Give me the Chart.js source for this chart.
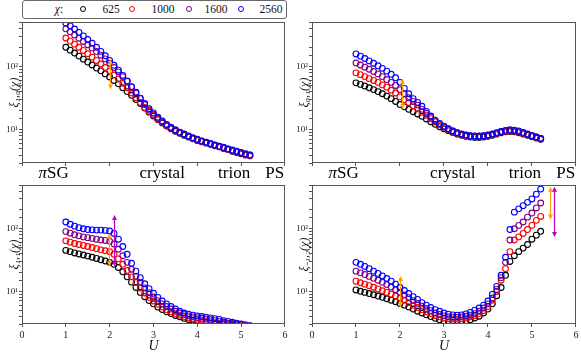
<!DOCTYPE html>
<html>
<head>
<meta charset="utf-8">
<script src="https://cdn.jsdelivr.net/npm/chart.js@4.4.0/dist/chart.umd.min.js"></script>
<style>
body { margin: 0; background: #fff; }
#wrap { position: relative; width: 581px; height: 357px; font-family: 'Liberation Serif', 'Times New Roman', serif; color: #111; }
canvas { position: absolute; }
#legend { position: absolute; left: 22px; top: 0; width: 265px; height: 19px; box-sizing: border-box; border: 1px solid #666; border-radius: 3px; font-size: 11.5px; z-index: 5; background: #fff; }
#legend span { position: absolute; top: 2px; transform: translateX(-50%); white-space: nowrap; }
#legend span.mk { top: 5px; width: 4px; height: 4px; border: 1.2px solid; border-radius: 50%; }
</style>
</head>
<body>
<div id="wrap">
  <canvas id="c10" width="290" height="185" style="left:0;top:0"></canvas>
  <canvas id="c01" width="291" height="185" style="left:290px;top:0"></canvas>
  <canvas id="c11" width="290" height="187" style="left:0;top:170px"></canvas>
  <canvas id="c12" width="291" height="187" style="left:290px;top:170px"></canvas>
  <div id="legend"></div>
</div>
<script>
// U values, same for every panel
var uVals = [1.0, 1.1, 1.2, 1.3, 1.4, 1.5, 1.6, 1.7, 1.8, 1.9, 2.0, 2.1, 2.2, 2.3, 2.4, 2.5, 2.6, 2.7, 2.8, 2.9,
             3.0, 3.1, 3.2, 3.3, 3.4, 3.5, 3.6, 3.7, 3.8, 3.9, 4.0, 4.1, 4.2, 4.3, 4.4, 4.5, 4.6, 4.7, 4.8, 4.9,
             5.0, 5.1, 5.2];

var chiLabels = ['625', '1000', '1600', '2560'];
var chiColors = ['#000000', '#ff0000', '#800080', '#0000ff'];

// xi_{1,0}
var xi10_625 = [200,180,162,145,130,117,105,94,85,76,68,60,53,46,40,35,30,26,22,19,16.5,14.5,12.8,11.5,10.4,9.5,8.8,8.2,7.7,7.2,6.8,6.5,6.2,5.9,5.6,5.4,5.1,4.9,4.6,4.4,4.2,4.0,3.9];
var xi10_1000 = [280,250,224,200,178,158,140,124,109,96,84,73,63,54,46,38,32,27,22.5,19.5,17,14.8,13.1,11.7,10.6,9.7,9.0,8.4,7.8,7.3,6.9,6.6,6.3,6.0,5.7,5.4,5.2,4.9,4.7,4.5,4.3,4.1,3.9];
var xi10_1600 = [390,350,312,278,247,219,194,171,150,131,112,96,82,69,58,47,38,31,25,20.5,17.5,15.2,13.4,11.9,10.8,9.8,9.1,8.5,7.9,7.4,7.0,6.6,6.3,6.0,5.7,5.5,5.2,5.0,4.7,4.5,4.3,4.1,4.0];
var xi10_2560 = [480,435,388,343,302,265,231,200,172,147,124,104,87,72,59,48,39,31.5,26,21.5,18.5,15.8,13.8,12.2,11.0,10.0,9.2,8.6,8.0,7.5,7.1,6.7,6.4,6.1,5.8,5.5,5.3,5.0,4.8,4.6,4.4,4.2,4.0];

// xi_{0,1}
var xi01_625 = [55,52,49,46,43,40,37,34,31,28,25,23,21,19.3,17.8,16.3,14.8,13.4,12.2,11.2,10.4,9.7,9.1,8.6,8.2,7.9,7.7,7.6,7.6,7.7,7.9,8.2,8.6,9.0,9.3,9.4,9.3,9.0,8.6,8.2,7.8,7.4,7.1];
var xi01_1000 = [79,74,69,64,60,56,51,47,42,38,33,30,27,24,21.5,19,17,15,13.3,12,11,10.1,9.4,8.8,8.4,8.1,7.9,7.8,7.8,7.9,8.1,8.4,8.8,9.2,9.5,9.6,9.5,9.2,8.8,8.4,8.0,7.6,7.2];
var xi01_1600 = [113,105,97,90,83,76,69,62,56,50,43,37,32,28,24.5,21,18.2,15.8,13.8,12.3,11.2,10.3,9.6,9.0,8.5,8.2,8.0,7.9,7.9,8.0,8.2,8.5,8.9,9.3,9.6,9.7,9.6,9.3,8.9,8.5,8.1,7.7,7.3];
var xi01_2560 = [157,145,133,122,112,102,93,84,75,66,56,45,37,31,27,23.5,19.5,16.5,14.2,12.6,11.4,10.4,9.6,9.0,8.6,8.3,8.1,8.0,8.0,8.1,8.3,8.6,9.0,9.4,9.8,10.0,9.9,9.6,9.1,8.6,8.1,7.7,7.3];

// xi_{1,1}
var xi11_625 = [45,43,41,39.5,38,36.5,35,33.5,32,30.5,29,27,24,20.5,17,14,11.5,9.6,8.2,7.1,6.3,5.6,5.1,4.7,4.4,4.1,3.9,3.7,3.55,3.45,3.35,3.25,3.15,3.1,3.05,3.0,2.95,2.9,2.85,2.8,2.75,2.7,2.65];
var xi11_1000 = [64,61,58,56,54,52,50,48,46,44.5,43,39,33,27,21.5,17,13.8,11.3,9.4,8.0,7.0,6.2,5.6,5.1,4.7,4.4,4.15,3.95,3.8,3.65,3.55,3.45,3.35,3.25,3.15,3.1,3.05,3.0,2.95,2.9,2.85,2.8,2.75];
var xi11_1600 = [90,85,80,77,74,72,70,68,66,65,63,57,47,37,29,22.5,17.5,14,11.3,9.5,8.1,7.1,6.3,5.7,5.2,4.8,4.5,4.25,4.05,3.9,3.8,3.7,3.6,3.5,3.4,3.3,3.2,3.1,3.05,3.0,2.95,2.9,2.85];
var xi11_2560 = [128,118,110,104,100,97,96,95,95,94,92,84,68,52,39,28,21,16.5,13.2,11,9.3,8.0,7.0,6.3,5.7,5.2,4.8,4.5,4.3,4.15,4.05,3.95,3.85,3.75,3.65,3.55,3.4,3.3,3.2,3.1,3.0,2.9,2.8];

// xi_{-1,2}
var xi12_625 = [10.5,10.0,9.6,9.2,8.8,8.4,8.0,7.6,7.2,6.8,6.4,6.0,5.6,5.2,4.8,4.5,4.2,3.95,3.7,3.5,3.35,3.25,3.2,3.2,3.25,3.35,3.5,3.75,4.0,4.5,5.2,6.3,8.5,11.5,18,30,37,43,49,56,68,79,91];
var xi12_1000 = [14.5,13.7,13.0,12.3,11.6,10.9,10.2,9.6,9.0,8.4,7.8,7.2,6.6,6.0,5.5,5.1,4.7,4.4,4.1,3.9,3.75,3.65,3.6,3.6,3.65,3.75,3.9,4.1,4.4,4.9,5.7,7.2,9.9,15,23,43,66,74,84,97,113,136,157];
var xi12_1600 = [21,19.7,18.5,17.3,16.1,15.0,13.9,12.8,11.7,10.6,9.6,8.7,7.9,7.1,6.4,5.8,5.3,4.9,4.5,4.25,4.05,3.9,3.85,3.85,3.9,4.0,4.15,4.4,4.8,5.4,6.3,7.8,10.7,16.5,29,66,100,113,128,153,178,215,258];
var xi12_2560 = [29,27,25,23,21,19.3,17.6,16.0,14.5,13,11.5,10.3,9.2,8.2,7.4,6.6,6.0,5.5,5.1,4.8,4.5,4.3,4.2,4.15,4.2,4.35,4.6,5.0,5.4,6.0,7.0,8.9,12,18,35,97,184,208,234,264,299,357,430];

// phase names written between the two rows
var phaseNames = ['πSG', 'crystal', 'trion', 'PS'];
var phaseU = [0.72, 3.2, 4.84, 5.77];

// double headed arrows: [U, low, high, colour]
var orange = '#ffa500';
var magenta = '#c000c0';
var arrows10 = [[2.0, 43, 128, orange]];
var arrows01 = [[2.04, 21, 64, orange]];
var arrows11 = [[1.99, 25, 84, orange], [2.09, 25, 165, magenta]];
var arrows12 = [[2.0, 5.5, 17.5, orange], [5.41, 140, 468, orange], [5.5, 74, 468, magenta]];

var serif = "'Liberation Serif', 'Times New Roman', serif";
Chart.defaults.font.family = serif;
Chart.defaults.color = '#111';

var sup = ['\u2070', '\u00b9', '\u00b2', '\u00b3'];

function logLabel(v) {
    var l = Math.log10(v);
    if (Math.abs(l - Math.round(l)) < 1e-9) return '10' + sup[Math.round(l)];
    return '';
}

var framePlugin = {
    id: 'frame',
    afterDraw: function (chart) {
        var a = chart.chartArea, c = chart.ctx;
        c.save();
        c.strokeStyle = '#555';
        c.lineWidth = 1;
        c.strokeRect(Math.round(a.left) + 0.5, Math.round(a.top) + 0.5,
                     Math.round(a.right - a.left) - 1, Math.round(a.bottom - a.top) - 1);
        c.restore();
    }
};

function head(c, x, y, dir) {
    c.beginPath();
    c.moveTo(x, y);
    c.lineTo(x - 2.5, y + dir * 5);
    c.lineTo(x + 2.5, y + dir * 5);
    c.closePath();
    c.fill();
}

var arrowPlugin = {
    id: 'arrows',
    afterDatasetsDraw: function (chart, args, opts) {
        var c = chart.ctx, xs = chart.scales.x, ys = chart.scales.y;
        (opts.list || []).forEach(function (a) {
            var x = Math.round(xs.getPixelForValue(a[0])) + 0.5;
            var yl = ys.getPixelForValue(a[1]);
            var yh = ys.getPixelForValue(a[2]);
            c.save();
            c.strokeStyle = a[3];
            c.fillStyle = a[3];
            c.lineWidth = 1.2;
            c.beginPath();
            c.moveTo(x, yl - 3);
            c.lineTo(x, yh + 3);
            c.stroke();
            head(c, x, yh, 1);
            head(c, x, yl, -1);
            c.restore();
        });
    }
};

var phasePlugin = {
    id: 'phases',
    afterDraw: function (chart, args, opts) {
        if (!opts.show) return;
        var c = chart.ctx, xs = chart.scales.x;
        c.save();
        c.fillStyle = '#000';
        c.textBaseline = 'alphabetic';
        for (var i = 0; i < phaseNames.length; i++) {
            var name = phaseNames[i];
            var x = xs.getPixelForValue(phaseU[i]);
            var it = '', rest = name;
            if (name.charAt(0) === 'π') { it = 'π'; rest = name.substring(1); }
            c.font = 'italic 17px ' + serif;
            var w1 = it ? c.measureText(it).width : 0;
            c.font = '17px ' + serif;
            var w2 = c.measureText(rest).width;
            var x0 = x - (w1 + w2) / 2;
            if (it) {
                c.font = 'italic 17px ' + serif;
                c.fillText(it, x0, 178);
            }
            c.font = '17px ' + serif;
            c.fillText(rest, x0 + w1, 178);
        }
        c.restore();
    }
};

function makeSets(s) {
    var sets = [];
    for (var k = 0; k < s.length; k++) {
        var pts = [];
        for (var i = 0; i < uVals.length; i++) pts.push({ x: uVals[i], y: s[k][i] });
        sets.push({
            label: chiLabels[k],
            data: pts,
            showLine: false,
            pointStyle: 'circle',
            pointRadius: 2.9,
            pointBorderWidth: 1.1,
            pointBorderColor: chiColors[k],
            pointBackgroundColor: 'rgba(0,0,0,0)',
            borderColor: chiColors[k],
            backgroundColor: 'rgba(0,0,0,0)',
            order: s.length - 1 - k,
            clip: 0
        });
    }
    return sets;
}

function makePanel(id, series, ylab, arrowList, bottomRow, padTop, padRight, xh) {
    var ctx = document.getElementById(id).getContext('2d');
    return new Chart(ctx, {
        type: 'scatter',
        data: { datasets: makeSets(series) },
        options: {
            responsive: false,
            animation: false,
            events: [],
            layout: { padding: { left: 0, right: padRight, top: padTop, bottom: 0 } },
            plugins: {
                legend: { display: false },
                tooltip: { enabled: false },
                arrows: { list: arrowList },
                phases: { show: !bottomRow }
            },
            scales: {
                x: {
                    type: 'linear', min: 0, max: 6,
                    ticks: { stepSize: 1, display: bottomRow, font: { size: 10 }, color: '#222', padding: 2, maxRotation: 0 },
                    grid: { drawOnChartArea: false, tickLength: 3, color: '#555' },
                    border: { display: false },
                    title: { display: bottomRow, text: 'U', color: '#111', font: { size: 14, style: 'italic' }, padding: { top: 0, bottom: 2 } },
                    afterFit: function (s) { s.height = xh; }
                },
                y: {
                    type: 'logarithmic', min: 3, max: 500,
                    ticks: { autoSkip: false, callback: logLabel, font: { size: 9 }, color: '#222', padding: 1 },
                    grid: { drawOnChartArea: false, tickLength: 3, color: '#555' },
                    border: { display: false },
                    title: { display: true, text: ylab, color: '#111', font: { size: 12, style: 'italic' }, padding: { top: 8, bottom: 0 } },
                    afterFit: function (s) { s.width = 22; }
                }
            }
        },
        plugins: [framePlugin, arrowPlugin, phasePlugin]
    });
}

makePanel('c10', [xi10_625, xi10_1000, xi10_1600, xi10_2560], 'ξ\u2081,\u2080(χ)', arrows10, false, 22, 3, 22);
makePanel('c01', [xi01_625, xi01_1000, xi01_1600, xi01_2560], 'ξ\u2080,\u2081(χ)', arrows01, false, 22, 4, 22);
makePanel('c11', [xi11_625, xi11_1000, xi11_1600, xi11_2560], 'ξ\u2081,\u2081(χ)', arrows11, true, 15, 4, 33);
makePanel('c12', [xi12_625, xi12_1000, xi12_1600, xi12_2560], 'ξ\u208b\u2081,\u2082(χ)', arrows12, true, 15, 5, 33);

// legend row above the first panel
var legendX = [36, 60, 88, 109, 140, 166, 193, 218, 248];
var lg = document.getElementById('legend');
function addSpan(html, x, cls, color) {
    var s = document.createElement('span');
    s.innerHTML = html;
    s.style.left = x + 'px';
    if (cls) s.className = cls;
    if (color) s.style.borderColor = color;
    lg.appendChild(s);
}
addSpan('<i>χ</i>:', legendX[0]);
for (var k = 0; k < chiLabels.length; k++) {
    addSpan('', legendX[1 + 2 * k], 'mk', chiColors[k]);
    addSpan(chiLabels[k], legendX[2 + 2 * k]);
}
</script>
</body>
</html>
